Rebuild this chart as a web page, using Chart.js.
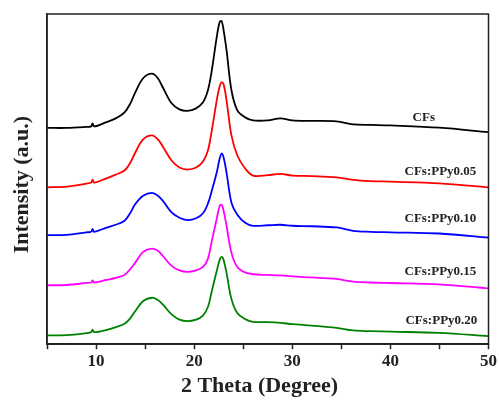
<!DOCTYPE html>
<html>
<head>
<meta charset="utf-8">
<script src="https://cdn.jsdelivr.net/npm/chart.js@4/dist/chart.umd.min.js"></script>
<style>
  html, body { margin: 0; padding: 0; background: #fff; }
</style>
</head>
<body>
<canvas id="graficoXRD" width="499" height="400"></canvas>
<script>
// Ángulos 2 Theta (grados) donde se leyeron las curvas
const dosTheta = [5, 7, 9, 9.5, 9.65, 9.8, 11, 12, 12.9, 13.5, 14, 14.8, 15.7, 16.3, 16.8, 17.7, 18.5, 19.3, 20.2, 20.9,
                  21.4, 21.8, 22.3, 22.6, 22.8, 23.0, 23.3, 23.8, 24.4, 25.2, 26, 27.5, 28.8, 30, 32, 34.5, 36.2, 38, 40, 45, 50];

// Intensidad (u.a.) de cada muestra, ya desplazada como en la figura
const intensidadCFs = [215.5, 215.5, 216.5, 217, 220, 217, 221, 225, 231, 240, 251, 265, 269.5, 265, 256, 240, 234, 232.5, 235, 241,
                       253, 273, 306, 321, 322, 313, 293, 253, 233, 226, 223, 223, 225, 223, 222.5, 222, 219, 218.5, 218, 215.7, 211.3];
const intensidadPPy005 = [156.3, 157, 160, 161, 164, 161, 165, 169, 173, 181, 191, 204, 208, 204, 197, 183, 176, 174, 176, 182,
                          193, 213, 243, 257, 261, 259, 243, 208, 188, 175, 168, 168.5, 169.7, 168, 167.5, 166.3, 163.7, 162.5, 162, 160.3, 156.3];
const intensidadPPy010 = [108.7, 109, 111.5, 112, 115, 112, 116, 119, 123, 131, 139.7, 148, 150.7, 148, 143, 131.3, 126, 123.7, 125.5, 130.5,
                          140, 153, 171, 185, 190, 186, 171, 141, 129, 121, 118, 118.5, 119, 118, 117.5, 116.3, 113, 112, 111.5, 110.3, 106.3];
const intensidadPPy015 = [58.7, 59, 61, 61.5, 63.5, 61.5, 64, 66, 69, 75, 81.3, 92, 95.3, 93, 88, 78, 73.5, 72, 73.5, 77,
                          85, 103, 125, 138, 139, 133, 118, 91, 77, 71.5, 69.7, 69, 68.5, 67.5, 66.5, 65, 62.3, 61.5, 61, 59.7, 55.7];
const intensidadPPy020 = [8.7, 9, 11, 12, 14.5, 12, 14, 17, 20.3, 26, 33, 43, 46.3, 44, 39.7, 29.7, 24.5, 23, 24.5, 28.5,
                          37, 53, 73, 84, 87, 84, 71, 45, 31, 25, 22.3, 22, 21.3, 20, 18.5, 16.3, 13.7, 13, 12.5, 11.3, 8];

const nombresSeries = ['CFs', 'CFs:PPy0.05', 'CFs:PPy0.10', 'CFs:PPy0.15', 'CFs:PPy0.20'];

// Marcas del eje x
const ticksDosTheta = [10, 20, 30, 40, 50];

const fuenteSerif = '"Liberation Serif", "Times New Roman", serif';

// Convierte una serie en puntos {x, y}
function armarPuntos(valores) {
    return dosTheta.map((x, i) => ({ x: x, y: valores[i] }));
}

function armarDataset(nombre, valores, color) {
    return {
        label: nombre,
        data: armarPuntos(valores),
        borderColor: color,
        borderWidth: 1.8,
        pointRadius: 0,
        tension: 0.35,
        fill: false
    };
}

// Recuadro completo alrededor del área del gráfico
const pluginMarco = {
    id: 'marco',
    afterDraw(chart) {
        const { ctx, chartArea } = chart;
        ctx.save();
        ctx.strokeStyle = '#222';
        ctx.lineWidth = 1.5;
        ctx.strokeRect(chartArea.left, chartArea.top, chartArea.right - chartArea.left, chartArea.bottom - chartArea.top);
        ctx.restore();
    }
};

// Nombres de cada curva escritos al lado derecho
const pluginEtiquetas = {
    id: 'etiquetas',
    afterDatasetsDraw(chart) {
        const { ctx, scales } = chart;
        const posiciones = [[43.4, 226], [45.1, 172], [45.1, 125], [45.1, 72], [45.2, 23]];
        ctx.save();
        ctx.font = 'bold 13px ' + fuenteSerif;
        ctx.fillStyle = '#222';
        ctx.textAlign = 'center';
        ctx.textBaseline = 'middle';
        nombresSeries.forEach((nombre, i) => {
            const px = scales.x.getPixelForValue(posiciones[i][0]);
            const py = scales.y.getPixelForValue(posiciones[i][1]);
            ctx.fillText(nombre, px, py);
        });
        ctx.restore();
    }
};

const ctx = document.getElementById('graficoXRD').getContext('2d');
new Chart(ctx, {
    type: 'line',
    data: {
        datasets: [
            armarDataset(nombresSeries[0], intensidadCFs, '#000000'),
            armarDataset(nombresSeries[1], intensidadPPy005, '#ff0000'),
            armarDataset(nombresSeries[2], intensidadPPy010, '#0000ff'),
            armarDataset(nombresSeries[3], intensidadPPy015, '#ff00ff'),
            armarDataset(nombresSeries[4], intensidadPPy020, '#008000')
        ]
    },
    options: {
        responsive: false,
        animation: false,
        layout: { padding: { left: 4, top: 14, right: 0, bottom: 0 } },
        plugins: {
            legend: { display: false },
            tooltip: { enabled: false }
        },
        scales: {
            x: {
                type: 'linear',
                min: 5,
                max: 50,
                border: { display: true, color: '#222', width: 1.5 },
                grid: { display: true, drawOnChartArea: false, drawTicks: true, tickLength: 5, color: '#222', tickWidth: 1.5 },
                ticks: {
                    stepSize: 5,
                    autoSkip: false,
                    maxRotation: 0,
                    padding: 2,
                    color: '#222',
                    font: { family: fuenteSerif, size: 17, weight: 'bold' },
                    callback: (valor) => ticksDosTheta.includes(valor) ? String(valor) : ''
                },
                title: {
                    display: true,
                    text: '2 Theta (Degree)   ',
                    color: '#222',
                    padding: { top: 0, bottom: 0 },
                    font: { family: fuenteSerif, size: 22, weight: 'bold' }
                }
            },
            y: {
                min: 0,
                max: 329,
                border: { display: true, color: '#222', width: 1.5 },
                grid: { display: false, drawTicks: false },
                ticks: { display: false },
                title: {
                    display: true,
                    text: 'Intensity (a.u.)  ',
                    color: '#222',
                    padding: { top: 4.8, bottom: 11.8 },
                    font: { family: fuenteSerif, size: 22, weight: 'bold' }
                }
            }
        }
    },
    plugins: [pluginMarco, pluginEtiquetas]
});
</script>
</body>
</html>
